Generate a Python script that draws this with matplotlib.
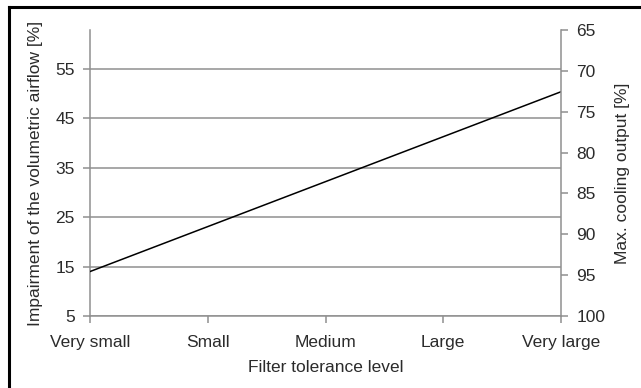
import matplotlib
matplotlib.use("Agg")
import matplotlib.pyplot as plt
from matplotlib.lines import Line2D

categories = ["Very small", "Small", "Medium", "Large", "Very large"]
airflow_impairment = [14.0, 23.1, 32.2, 41.3, 50.4]
left_ticks = [5, 15, 25, 35, 45, 55]
right_ticks = [65, 70, 75, 80, 85, 90, 95, 100]

plt.rcParams['font.family'] = ['Liberation Sans', 'DejaVu Sans']
txt = '#2b2b2b'
gray = '#8f8f8f'
fs = 12.5

fig = plt.figure(figsize=(6.41, 3.88), dpi=100)
ax = fig.add_axes([90/641, 1-316/388, (561-90)/641, (316-30)/388])
x = list(range(len(categories)))
ax.plot(x, airflow_impairment, color='black', lw=1.1, zorder=3)
ax.set_xlim(0, len(categories)-1)
ax.set_ylim(5, 62.9)
ax.set_yticks(left_ticks)
ax.set_xticks(x)
ax.set_xticklabels(categories)
ax.yaxis.grid(True, color=gray, lw=1.1)
ax.set_axisbelow(True)
for s in ['top', 'right']:
    ax.spines[s].set_visible(False)
for s in ['left', 'bottom']:
    ax.spines[s].set_color(gray)
    ax.spines[s].set_linewidth(1.1)
ax.tick_params(axis='both', colors=gray, labelcolor=txt, labelsize=fs, length=5, width=1.1)
ax.tick_params(axis='y', pad=6)
ax.tick_params(axis='x', pad=9)
ax.set_xlabel("Filter tolerance level", fontsize=fs, color=txt, labelpad=7)
ax.set_ylabel("Impairment of the volumetric airflow [%]", fontsize=fs, color=txt, labelpad=9)

ax2 = ax.twinx()
ax2.set_ylim(100, 65)
ax2.set_yticks(right_ticks)
for s in ['top', 'left', 'bottom']:
    ax2.spines[s].set_visible(False)
ax2.spines['right'].set_color(gray)
ax2.spines['right'].set_linewidth(1.1)
ax2.tick_params(axis='y', colors=gray, labelcolor=txt, labelsize=fs, length=5, width=1.1, pad=6)
ax2.set_ylabel("Max. cooling output [%]", fontsize=fs, color=txt, labelpad=7)

# figure border (left and top edges)
fig.add_artist(Line2D([8.5/641, 8.5/641], [0, 1-7/388], transform=fig.transFigure, color='black', lw=2.2))
fig.add_artist(Line2D([8.5/641, 1], [1-7/388, 1-7/388], transform=fig.transFigure, color='black', lw=2.2))

fig.savefig("out.png", dpi=100)
